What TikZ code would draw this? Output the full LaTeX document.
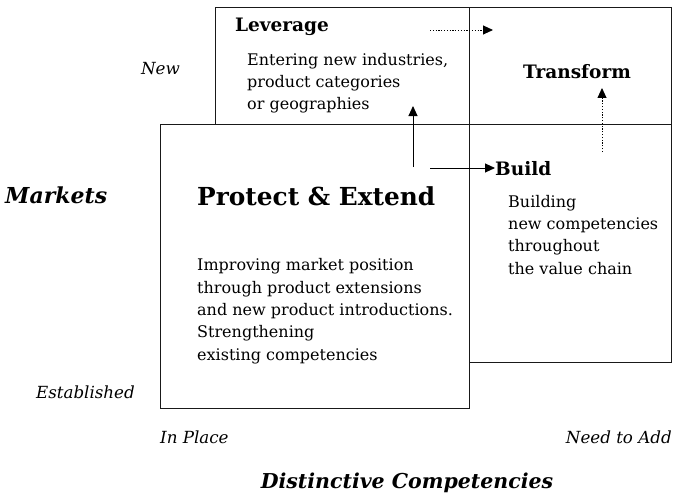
\documentclass[tikz,border=0pt]{standalone}
\usepackage{fontspec}
\setmainfont{DejaVu Serif}
\usetikzlibrary{arrows.meta}
\begin{document}
\begin{tikzpicture}[x=1pt,y=-1pt,
  box/.style={draw=black!90,line width=1pt,inner sep=0pt,anchor=north west,rectangle},
  title/.style={font=\fontsize{18.5}{22}\selectfont\bfseries,inner sep=0pt},
  body/.style={font=\fontsize{16}{22.3}\selectfont,inner sep=0pt,align=left,anchor=base west},
  axis/.style={font=\fontsize{16.7}{20}\selectfont\itshape,inner sep=0pt},
  axtitle/.style={font=\bfseries\itshape,inner sep=0pt},
  arr/.style={line width=0.9pt,-{Triangle[length=10pt,width=9pt]}},
  darr/.style={line width=0.9pt,dash pattern=on 1.2pt off 1.6pt,-{Triangle[length=10pt,width=9pt]}}]
\useasboundingbox (0,0) rectangle (686,495);
% boxes
\node[box,minimum width=254pt,minimum height=117pt] (lev) at (215,7) {};
\node[box,minimum width=202pt,minimum height=117pt] (tra) at (469,7) {};
\node[box,minimum width=309pt,minimum height=284pt] (pro) at (160,124) {};
\node[box,minimum width=202pt,minimum height=238pt] (bui) at (469,124) {};
% titles
\node[title,anchor=base west] (levt) at (235,32) {Leverage};
\node[title,anchor=base] (trat) at (577,78) {Transform};
\node[title,anchor=base west] (buit) at (495,175) {Build};
\node[title,font=\fontsize{24.8}{28}\selectfont\bfseries,anchor=base west] (prot) at (197,205) {Protect \& Extend};
% bodies (base anchor = last line)
\node[body] (levb) at (247,110) {Entering new industries,\\product categories\\or geographies};
\node[body] (buib) at (508,274) {Building\\new competencies\\throughout\\the value chain};
\node[body] (prob) at (197,360) {Improving market position\\through product extensions\\and new product introductions.\\Strengthening\\existing competencies};
% axes
\node[axis,anchor=base east] (new) at (180,75) {New};
\node[axis,anchor=base east] (est) at (135,398) {Established};
\node[axis,anchor=base west] (inp) at (160,443) {In Place};
\node[axis,anchor=base east] (nta) at (672,443) {Need to Add};
\node[axtitle,font=\fontsize{22}{26}\selectfont\bfseries\itshape,anchor=base west] (mkt) at (5,203) {Markets};
\node[axtitle,font=\fontsize{20.5}{24}\selectfont\bfseries\itshape,anchor=base] (dc) at (407,488) {Distinctive Competencies};
% arrows
\coordinate (upS) at (413,167);
\coordinate (upE) at (413,106);
\coordinate (rS) at (430,168);
\coordinate (dS) at (430,30);
\coordinate (dE) at (493,30);
\coordinate (duS) at (602,152);
\coordinate (duE) at (602,88);
\draw[arr] (upS) -- (upE);
\draw[arr] (rS) -- (buit.west |- rS);
\draw[darr] (dS) -- (dE);
\draw[darr] (duS) -- (duE);
\end{tikzpicture}
\end{document}
